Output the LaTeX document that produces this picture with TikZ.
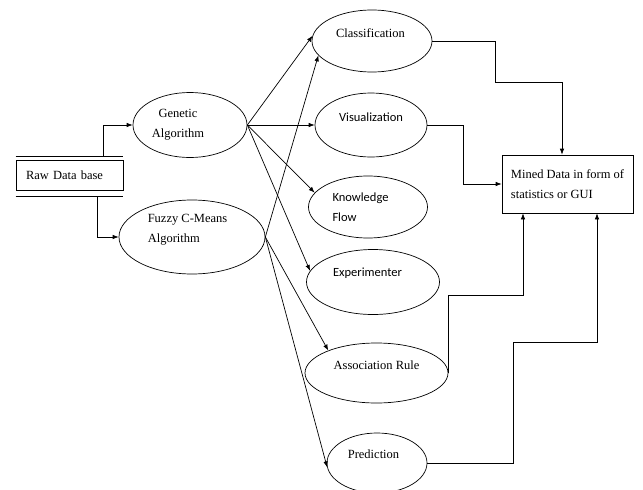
\documentclass[tikz,border=0pt]{standalone}
\usepackage{fontspec}
\setmainfont{Liberation Serif}
\newfontfamily\calibrifont{Carlito}
\usetikzlibrary{shapes.geometric,arrows.meta}

\tikzset{
  blob/.style={draw,ellipse,inner sep=0pt},
  storebox/.style={draw,rectangle,inner sep=0pt},
}

\begin{document}
\begin{tikzpicture}[x=1pt,y=-1pt,line width=0.7pt,>={Latex[length=6pt,width=4.5pt]},
    font=\fontsize{12.5}{20}\selectfont]
    \useasboundingbox (0,0) rectangle (643,490);

    % data store and algorithms
    \node[storebox,minimum width=107pt,minimum height=30pt,text width=87pt,inner xsep=10pt,align=left] (raw) at (69.5,175) {Raw Data base};
    \draw ([yshift=3pt]raw.north west) -- ([yshift=3pt]raw.north east);
    \draw ([yshift=-6pt]raw.south west) -- ([yshift=-6pt]raw.south east);

    \node[blob,minimum width=114pt,minimum height=65pt,label={[xshift=-12pt,align=center]center:{Genetic\\Algorithm}}] (ga) at (190,125) {};
    \node[blob,minimum width=146pt,minimum height=74pt,label={[xshift=-4.5pt,yshift=7pt,align=left]center:{Fuzzy C-Means\\Algorithm}}] (fz) at (192,237) {};

    % tools
    \node[blob,minimum width=120pt,minimum height=62pt,label={[xshift=-1.5pt,yshift=8pt]center:Classification}] (cls) at (372,41) {};
    \node[blob,minimum width=112pt,minimum height=64pt,label={[yshift=8pt,font=\fontsize{12.5}{20}\calibrifont]center:Visualization}] (vis) at (371,125) {};
    \node[blob,minimum width=119pt,minimum height=62pt,label={[xshift=-7.5pt,align=left,font=\fontsize{12.5}{20}\calibrifont]center:{Knowledge\\Flow}}] (kf) at (368,207) {};
    \node[blob,minimum width=133pt,minimum height=65pt,label={[xshift=-5.5pt,yshift=9pt,font=\fontsize{12.5}{20}\calibrifont]center:Experimenter}] (exp) at (373,282) {};
    \node[blob,minimum width=143pt,minimum height=60pt,label={[yshift=8pt]center:Association Rule}] (ar) at (376.5,373) {};
    \node[blob,minimum width=100pt,minimum height=60pt,label={[xshift=-3.5pt,yshift=9pt]center:Prediction}] (pred) at (377,463) {};

    \node[storebox,minimum width=131pt,minimum height=58pt,align=left] (mined) at (567.5,184) {Mined Data in form of\\statistics or GUI};

    \draw[->] ([xshift=33.5pt,yshift=3pt]raw.north) |- (ga.west);
    \draw[->] ([xshift=27.5pt,yshift=-6pt]raw.south) |- (fz.west);

    \draw[->] (ga.east) -- (cls.175);
    \draw[->] (ga.east) -- (vis.west);
    \draw[->] (ga.east) -- (kf.165);
    \draw[->] (ga.east) -- (exp.170);

    \draw[->] (fz.east) -- (cls.195);
    \draw[->] (fz.east) -- (ar.155);
    \draw[->] (fz.east) -- (pred.185);

    \draw[->] (cls.east) -- ++(63,0) -- ++(0,41) -| ([xshift=-5.5pt]mined.north);
    \draw[->] (vis.east) -- ++(36,0) |- (mined.west);
    \draw[->] (ar.east) -- ++(0,-78) -| ([xshift=-44.5pt]mined.south);
    \draw[->] (pred.east) -- ++(86,0) -- ++(0,-121) -| ([xshift=29.5pt]mined.south);
\end{tikzpicture}
\end{document}
